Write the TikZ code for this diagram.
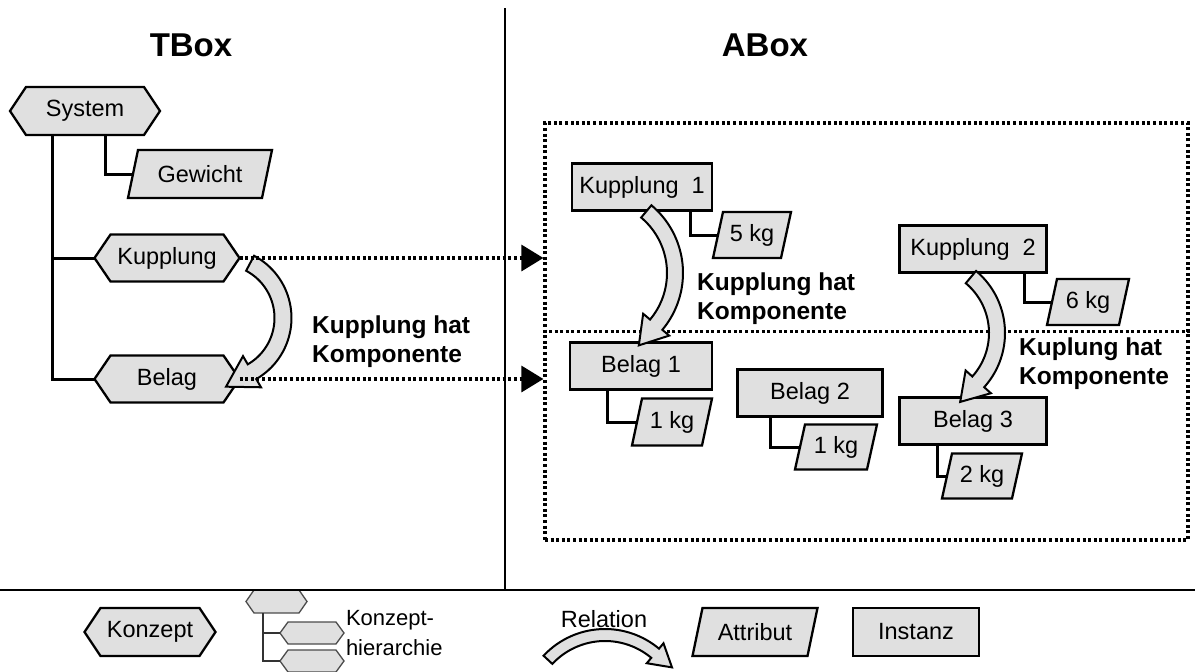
\documentclass[tikz,border=0pt]{standalone}
\usepackage{fontspec}
\setmainfont{Liberation Sans}
\usetikzlibrary{arrows.meta}
\definecolor{boxgray}{RGB}{224,224,224}
\pgfdeclarelayer{back}
\pgfsetlayers{back,main}

% hexagonal concept node: style, name, position, width, height, bevel, text
\newcommand\hexnode[7]{%
  \node[lbl, minimum width=#4pt, minimum height=#5pt] (#2) at (#3) {#7};
  \begin{pgfonlayer}{back}
    \draw[#1] ([xshift=#6pt]#2.north west) -- ([xshift=-#6pt]#2.north east) -- (#2.east)
      -- ([xshift=-#6pt]#2.south east) -- ([xshift=#6pt]#2.south west) -- (#2.west) -- cycle;
  \end{pgfonlayer}}

% slanted attribute node: name, position, width, height, text
\newcommand\attrnode[5]{%
  \node[lbl, minimum width=#3pt, minimum height=#4pt] (#1) at (#2) {#5};
  \begin{pgfonlayer}{back}
    \draw[shp] ([xshift=10pt]#1.north west) -- (#1.north east)
      -- ([xshift=-10pt]#1.south east) -- (#1.south west) -- cycle;
  \end{pgfonlayer}}

% bent block arrow: cx, cy, radius, start angle, end angle, shaft half width, head half width, head length
\newcommand\bentarrow[8]{%
  \pgfmathsetmacro\ro{#3+#6}\pgfmathsetmacro\ri{#3-#6}%
  \pgfmathsetmacro\ho{#3+#7}\pgfmathsetmacro\hi{#3-#7}%
  \draw[relarrow]
    plot[domain=#4:#5, samples=40] ({#1+\ro*cos(\x)},{#2+\ro*sin(\x)})
    -- ({#1+\ho*cos(#5)},{#2+\ho*sin(#5)})
    -- ({#1+#3*cos(#5)+#8*cos(#5+90)},{#2+#3*sin(#5)+#8*sin(#5+90)})
    -- ({#1+\hi*cos(#5)},{#2+\hi*sin(#5)})
    -- plot[domain=#5:#4, samples=40] ({#1+\ri*cos(\x)},{#2+\ri*sin(\x)})
    -- cycle;}

\begin{document}
\begin{tikzpicture}[x=1pt,y=-1pt,
  shp/.style={draw=black, fill=boxgray, line width=2.3pt, line join=miter},
  thinshp/.style={draw=black!70, fill=boxgray, line width=1.3pt},
  lbl/.style={font=\fontsize{23.5}{28}\selectfont, inner sep=0pt, outer sep=0pt},
  inst/.style={shp, lbl, minimum width=#1, minimum height=47pt},
  inst/.default=142pt,
  conn/.style={line width=3pt},
  thinconn/.style={line width=1.6pt, draw=black!80},
  dotln/.style={line width=3.2pt, dash pattern=on 3pt off 2.6pt},
  dotarrow/.style={dotln, -{Triangle[length=22pt,width=26pt]}},
  relarrow/.style={draw=black, fill=boxgray, line width=2pt, line join=miter},
  reltext/.style={font=\bfseries\fontsize{24.5}{29}\selectfont, align=left, anchor=west, inner sep=0pt},
  title/.style={font=\bfseries\fontsize{33}{38}\selectfont},
  divider/.style={line width=2.3pt}]

\useasboundingbox (0,0) rectangle (1195,672);

% section dividers
\draw[divider] (505,8) -- (505,590);
\draw[divider] (0,590) -- (1195,590);

\node[title] (tbox) at (191,45) {TBox};
\node[title] (abox-title) at (765,45) {ABox};

% ---------- TBox ----------
\hexnode{shp}{sys}{85,111}{150}{48}{16}{System}
\attrnode{gew}{200,174}{144}{48}{Gewicht}
\hexnode{shp}{kup}{167,258}{145}{47}{16}{Kupplung}
\hexnode{shp}{bel}{167,379}{145}{47}{16}{Belag}

\draw[conn] ([xshift=-33pt]sys.south) |- (bel.west);
\draw[conn] (kup.west) -- ++(-43,0);
\draw[conn] ([xshift=20pt]sys.south) |- ([xshift=5pt]gew.west);

\bentarrow{221}{318}{62}{-62}{60}{8.5}{18}{30}
\node[reltext] (reltb) at (312,342) {Kupplung hat\\Komponente};

% ---------- ABox ----------
\node[dotln, draw, minimum width=643pt, minimum height=417pt, inner sep=0pt] (abox) at (866.5,331.5) {};
\draw[dotln] (abox.west) -- (abox.east);

\draw[dotarrow] (kup.east) -- (kup.east -| abox.west);
\draw[dotarrow] (bel.east) -- (bel.east -| abox.west);

\node[inst=140pt] (k1) at (642,187) {Kupplung\hspace{0.55em}1};
\attrnode{a5}{752,235}{78}{46}{5 kg}
\draw[conn] ([xshift=48pt]k1.south) |- ([xshift=5pt]a5.west);

\node[inst=147pt] (k2) at (973,249) {Kupplung\hspace{0.55em}2};
\attrnode{a6}{1088,302}{82}{46}{6 kg}
\draw[conn] ([xshift=51pt]k2.south) |- ([xshift=5pt]a6.west);

\node[inst=142pt] (b1) at (641,366) {Belag 1};
\attrnode{a1}{672,422}{80}{47}{1 kg}
\draw[conn] ([xshift=-34pt]b1.south) |- ([xshift=5pt]a1.west);

\node[inst=145pt] (b2) at (810,393) {Belag 2};
\attrnode{a1b}{836,447}{82}{45}{1 kg}
\draw[conn] ([xshift=-40pt]b2.south) |- ([xshift=5pt]a1b.west);

\node[inst=147pt] (b3) at (973,421) {Belag 3};
\attrnode{a2}{982,476}{80}{45}{2 kg}
\draw[conn] ([xshift=-36pt]b3.south) |- ([xshift=5pt]a2.west);

\bentarrow{594.6}{273}{80.4}{-50}{40}{8}{17}{27}
\node[reltext] (rel1) at (697,299) {Kupplung hat\\Komponente};

\bentarrow{924}{333}{73}{-50}{42}{8}{17}{27}
\node[reltext] (rel2) at (1019,364) {Kuplung hat\\Komponente};

% ---------- legend ----------
\hexnode{shp}{lk}{150,632}{131}{48}{16}{Konzept}

\hexnode{thinshp}{h1}{276.5,601.5}{61}{23}{8}{}
\hexnode{thinshp}{h2}{312,633}{64}{22}{8}{}
\hexnode{thinshp}{h3}{312,661}{64}{22}{8}{}
\draw[thinconn] ([xshift=-13.5pt]h1.south) |- (h3.west);
\draw[thinconn] (h2.west) -- ++(-17,0);
\node[lbl, align=left, anchor=west, font=\fontsize{22}{30}\selectfont] (lh) at (346,633) {Konzept-\\hierarchie};

\node[lbl] (lr) at (604,619) {Relation};
\bentarrow{605}{713}{78}{-137}{-50}{6}{13}{22}

\attrnode{la}{755,632}{125}{48}{Attribut}
\node[inst=126pt, minimum height=48pt] (li) at (916,632) {Instanz};

\end{tikzpicture}
\end{document}
